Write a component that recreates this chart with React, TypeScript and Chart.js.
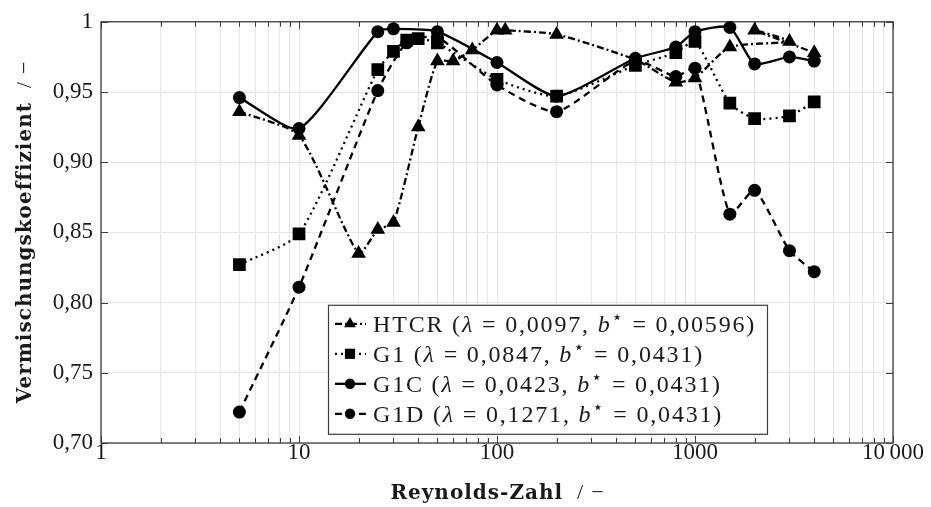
import React, { useEffect, useRef } from 'react';
import { Chart, registerables } from 'chart.js';
import { drawPoint } from 'chart.js/helpers';

Chart.register(...registerables);

// ---------------- data ----------------
const seriesNames = ['HTCR', 'G1', 'G1C', 'G1D'];
const lambdaLabels = ['0,0097', '0,0847', '0,0423', '0,1271'];
const bStarLabels = ['0,00596', '0,0431', '0,0431', '0,0431'];

const htcrRe = [5, 10, 20, 25, 30, 40, 50, 60, 75, 100, 110, 200, 500, 800, 1000, 1500, 3000, 2000, 4000];
const htcrVal = [0.936, 0.919, 0.835, 0.852, 0.857, 0.925, 0.972, 0.972, 0.98, 0.994, 0.994, 0.991, 0.973, 0.957, 0.96, 0.982, 0.986, 0.994, 0.978];

const g1Re = [5, 10, 25, 30, 35, 40, 50, 100, 200, 500, 800, 1000, 1500, 2000, 3000, 4000];
const g1Val = [0.827, 0.849, 0.966, 0.979, 0.987, 0.988, 0.985, 0.959, 0.947, 0.969, 0.978, 0.986, 0.942, 0.931, 0.933, 0.943];

const g1cRe = [5, 10, 25, 30, 50, 100, 200, 500, 800, 1000, 1500, 2000, 3000, 4000];
const g1cVal = [0.946, 0.924, 0.993, 0.995, 0.993, 0.971, 0.947, 0.974, 0.982, 0.993, 0.996, 0.97, 0.975, 0.972];

const g1dRe = [5, 10, 25, 35, 50, 100, 200, 500, 800, 1000, 1500, 2000, 3000, 4000];
const g1dVal = [0.722, 0.811, 0.951, 0.985, 0.989, 0.955, 0.936, 0.972, 0.961, 0.967, 0.863, 0.88, 0.837, 0.822];

const yTickValues = [0.7, 0.75, 0.8, 0.85, 0.9, 0.95, 1];
const yTickLabels = ['0,70', '0,75', '0,80', '0,85', '0,90', '0,95', '1'];
const xMajorValues = [1, 10, 100, 1000, 10000];
const xMajorLabels = ['1', '10', '100', '1000', '10\u2009000'];

const xTitle = 'Reynolds-Zahl';
const yTitle = 'Vermischungskoeffizient';
const unitText = '/';
const unitDash = '\u2212';

// ---------------- styles ----------------
const SERIF = '"Liberation Serif", "DejaVu Serif", serif';
const TITLE = '"DejaVu Serif", "Liberation Serif", serif';
const TEXT = '#1a1a1a';
const AXIS = '#3c3c3c';
const GRID = '#e4e4e4';

const seriesStyles = [
  { dash: [7, 3, 2, 3], point: 'triangle', radius: 8.5 },
  { dash: [2, 4], point: 'rect', radius: 9 },
  { dash: [], point: 'circle', radius: 6.5 },
  { dash: [7, 5], point: 'circle', radius: 6.5 },
];

const seriesX = [htcrRe, g1Re, g1cRe, g1dRe];
const seriesY = [htcrVal, g1Val, g1cVal, g1dVal];

function xTickList() {
  const out: { value: number; major: boolean }[] = [];
  for (let d = 1; d < 10000; d *= 10) {
    for (let k = 1; k <= 9; k++) out.push({ value: k * d, major: k === 1 });
  }
  out.push({ value: 10000, major: true });
  return out;
}

const framePlugin = {
  id: 'frameAndLegend',
  beforeDatasetsDraw(chart: any) {
    const { ctx, chartArea: a, scales } = chart;
    ctx.save();
    ctx.strokeStyle = AXIS;
    ctx.lineWidth = 1;
    ctx.beginPath();
    scales.x.ticks.forEach((t: any) => {
      const px = Math.round(scales.x.getPixelForValue(t.value)) + 0.5;
      const len = t.major ? 7 : 5;
      ctx.moveTo(px, a.bottom);
      ctx.lineTo(px, a.bottom - len);
      ctx.moveTo(px, a.top);
      ctx.lineTo(px, a.top + len);
    });
    scales.y.ticks.forEach((t: any) => {
      const py = Math.round(scales.y.getPixelForValue(t.value)) + 0.5;
      ctx.moveTo(a.left, py);
      ctx.lineTo(a.left + 7, py);
      ctx.moveTo(a.right, py);
      ctx.lineTo(a.right - 7, py);
    });
    ctx.stroke();
    ctx.lineWidth = 1.3;
    ctx.strokeRect(a.left, a.top, a.right - a.left, a.bottom - a.top);
    ctx.restore();
  },
  afterDraw(chart: any) {
    const { ctx, chartArea: a } = chart;
    ctx.save();
    ctx.fillStyle = TEXT;
    const titleParts = (main: string) => {
      ctx.font = `bold 20px ${TITLE}`;
      (ctx as any).letterSpacing = '1px';
      const w1 = ctx.measureText(main).width;
      ctx.font = `22px ${SERIF}`;
      (ctx as any).letterSpacing = '0px';
      const w2 = ctx.measureText(unitText).width;
      const w3 = ctx.measureText(unitDash).width;
      return { w1, w2, w3, total: w1 + 14 + w2 + 8 + w3 };
    };
    const renderTitle = (main: string, startX: number, baseline: number) => {
      const p = titleParts(main);
      let x = startX;
      ctx.font = `bold 20px ${TITLE}`;
      (ctx as any).letterSpacing = '1px';
      ctx.fillText(main, x, baseline);
      x += p.w1 + 14;
      ctx.font = `22px ${SERIF}`;
      (ctx as any).letterSpacing = '0px';
      ctx.fillText(unitText, x, baseline);
      x += p.w2 + 8;
      ctx.fillText(unitDash, x, baseline);
    };
    ctx.textAlign = 'left';
    ctx.textBaseline = 'alphabetic';
    const cx = (a.left + a.right) / 2;
    const xp = titleParts(xTitle);
    renderTitle(xTitle, cx - xp.total / 2, 499);
    const yp = titleParts(yTitle);
    ctx.save();
    ctx.translate(31, (a.top + a.bottom) / 2);
    ctx.rotate(-Math.PI / 2);
    renderTitle(yTitle, -yp.total / 2, 0);
    ctx.restore();

    // ---- legend ----
    const lx = a.left + 227;
    const ly = a.top + 283;
    const lw = 439;
    const lh = 129;
    ctx.fillStyle = '#ffffff';
    ctx.fillRect(lx, ly, lw, lh);
    ctx.strokeStyle = AXIS;
    ctx.lineWidth = 1.2;
    ctx.strokeRect(lx + 0.5, ly + 0.5, lw, lh);
    const fs = 24;
    const rowSegs = seriesNames.map((n, i) => [
      { t: n + ' (', k: 'n' },
      { t: '\u03bb', k: 'i' },
      { t: ' = ' + lambdaLabels[i] + ', ', k: 'n' },
      { t: 'b', k: 'i' },
      { t: '\u22c6', k: 's' },
      { t: ' = ' + bStarLabels[i] + ')', k: 'n' },
    ]);
    const setFont = (k: string) => {
      if (k === 'i') ctx.font = `italic ${fs}px ${SERIF}`;
      else if (k === 's') ctx.font = `${Math.round(fs * 0.75)}px "DejaVu Sans", ${SERIF}`;
      else ctx.font = `${fs}px ${SERIF}`;
    };
    (ctx as any).letterSpacing = '0px';
    let nat = 0;
    let chars = 0;
    rowSegs[0].forEach((s) => {
      setFont(s.k);
      nat += ctx.measureText(s.t).width;
      chars += s.t.length;
    });
    const targetW = 383;
    const spacing = Math.max(0, (targetW - nat) / chars);
    rowSegs.forEach((segs, i) => {
      const cy = ly + 19 + i * 30;
      const st = seriesStyles[i];
      ctx.strokeStyle = '#000';
      ctx.lineWidth = 2.3;
      ctx.setLineDash(st.dash);
      ctx.beginPath();
      ctx.moveTo(lx + 7, cy);
      ctx.lineTo(lx + 38, cy);
      ctx.stroke();
      ctx.setLineDash([]);
      ctx.fillStyle = '#000';
      drawPoint(ctx, { pointStyle: st.point as any, radius: st.radius * 0.8, rotation: 0, borderWidth: 0 }, lx + 22, cy);
      ctx.fillStyle = TEXT;
      let x = lx + 45;
      (ctx as any).letterSpacing = spacing.toFixed(2) + 'px';
      segs.forEach((s) => {
        setFont(s.k);
        let y = cy + 8;
        if (s.k === 's') y = cy - 1;
        ctx.fillText(s.t, x, y);
        x += ctx.measureText(s.t).width;
      });
      (ctx as any).letterSpacing = '0px';
    });
    ctx.restore();
  },
};

export default function App() {
  const ref = useRef<HTMLCanvasElement>(null);
  useEffect(() => {
    const datasets = seriesNames.map((name, i) => ({
      label: name,
      data: seriesX[i].map((x, j) => ({ x, y: seriesY[i][j] })),
      borderColor: '#000',
      backgroundColor: '#000',
      borderWidth: 2.3,
      borderDash: seriesStyles[i].dash,
      pointStyle: seriesStyles[i].point,
      pointRadius: seriesStyles[i].radius,
      pointBorderWidth: 0,
      pointBackgroundColor: '#000',
      tension: 0.2,
      clip: 12,
      order: 4 - i,
    }));
    const chart = new Chart(ref.current as HTMLCanvasElement, {
      type: 'line',
      data: { datasets } as any,
      plugins: [framePlugin],
      options: {
        animation: false,
        responsive: false,
        events: [],
        layout: { padding: { left: 0, top: 20, right: 38, bottom: 0 } },
        plugins: { legend: { display: false }, tooltip: { enabled: false } },
        scales: {
          x: {
            type: 'logarithmic',
            min: 1,
            max: 10000,
            afterBuildTicks: (s: any) => {
              s.ticks = xTickList();
            },
            afterFit: (s: any) => {
              s.height = 64;
            },
            grid: { color: GRID, drawTicks: false, lineWidth: 1 },
            border: { display: false },
            ticks: {
              autoSkip: false,
              maxRotation: 0,
              padding: -4,
              color: TEXT,
              font: { family: SERIF, size: 23 },
              callback: (v: any) => {
                const idx = xMajorValues.indexOf(Number(v));
                return idx >= 0 ? xMajorLabels[idx] : '';
              },
            },
          },
          y: {
            type: 'linear',
            min: 0.7,
            max: 1,
            afterBuildTicks: (s: any) => {
              s.ticks = yTickValues.map((v) => ({ value: v }));
            },
            afterFit: (s: any) => {
              s.width = 101;
            },
            grid: { color: GRID, drawTicks: false, lineWidth: 1 },
            border: { display: false },
            ticks: {
              padding: 8,
              color: TEXT,
              font: { family: SERIF, size: 23 },
              callback: (v: any) => {
                const idx = yTickValues.findIndex((t) => Math.abs(t - Number(v)) < 1e-9);
                return idx >= 0 ? yTickLabels[idx] : '';
              },
            },
          },
        },
      } as any,
    });
    return () => chart.destroy();
  }, []);
  return (
    <div style={{ position: 'fixed', left: 0, top: 0, width: 931, height: 507, background: '#fff' }}>
      <canvas ref={ref} width={931} height={507} />
    </div>
  );
}
